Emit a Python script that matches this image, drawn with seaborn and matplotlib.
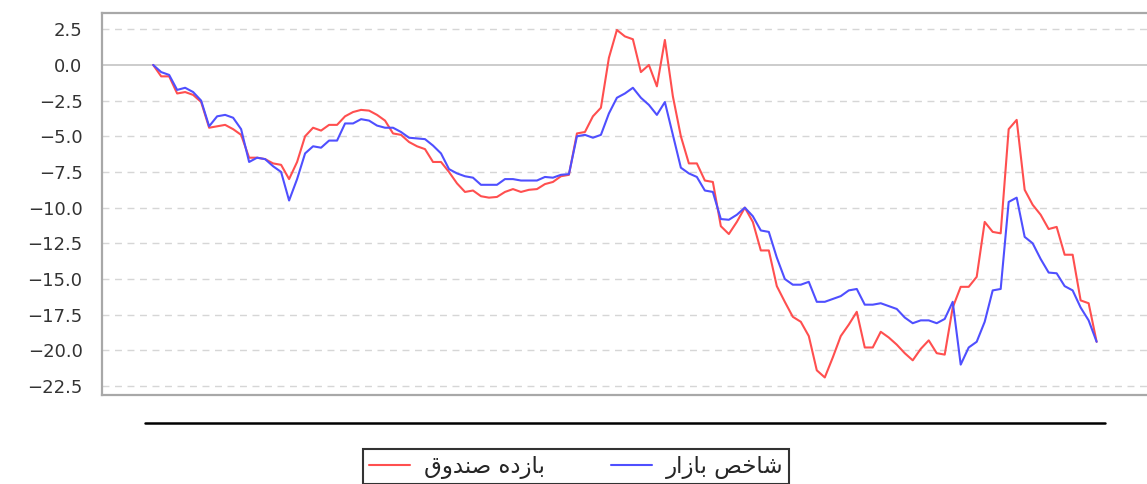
import numpy as np
import pandas as pd
import seaborn as sns
import matplotlib.pyplot as plt
from matplotlib.lines import Line2D

# values (percent), one per sample step
fund_return = [
    0.0, -0.8, -0.8, -2.0, -1.9, -2.1, -2.6, -4.4, -4.3, -4.2,
    -4.5, -4.9, -6.5, -6.5, -6.6, -6.9, -7.0, -8.0, -6.8, -5.0,
    -4.4, -4.6, -4.2, -4.2, -3.6, -3.3, -3.15, -3.2, -3.5, -3.9,
    -4.8, -4.9, -5.4, -5.7, -5.9, -6.8, -6.8, -7.5, -8.3, -8.9,
    -8.8, -9.2, -9.3, -9.25, -8.9, -8.7, -8.9, -8.75, -8.7, -8.35,
    -8.2, -7.8, -7.7, -4.8, -4.7, -3.6, -3.0, 0.5, 2.45, 2.0,
    1.8, -0.5, 0.0, -1.5, 1.75, -2.2, -5.0, -6.9, -6.9, -8.1,
    -8.2, -11.3, -11.85, -11.0, -10.0, -11.0, -13.0, -13.0, -15.5, -16.6,
    -17.65, -18.0, -19.0, -21.4, -21.9, -20.5, -19.0, -18.2, -17.3, -19.8,
    -19.8, -18.7, -19.1, -19.6, -20.2, -20.7, -19.9, -19.3, -20.2, -20.3,
    -17.0, -15.55, -15.55, -14.85, -11.0, -11.7, -11.8, -4.5, -3.85, -8.75,
    -9.8, -10.5, -11.5, -11.35, -13.3, -13.3, -16.5, -16.7, -19.4,
]
market_index = [
    0.0, -0.5, -0.7, -1.75, -1.6, -1.9, -2.5, -4.3, -3.6, -3.5,
    -3.7, -4.5, -6.8, -6.5, -6.6, -7.1, -7.5, -9.5, -8.0, -6.2,
    -5.7, -5.8, -5.3, -5.3, -4.1, -4.1, -3.8, -3.9, -4.25, -4.4,
    -4.4, -4.7, -5.1, -5.15, -5.2, -5.65, -6.2, -7.3, -7.6, -7.8,
    -7.9, -8.4, -8.4, -8.4, -8.0, -8.0, -8.1, -8.1, -8.1, -7.85,
    -7.9, -7.7, -7.65, -5.0, -4.9, -5.1, -4.9, -3.4, -2.3, -2.0,
    -1.6, -2.3, -2.8, -3.5, -2.6, -4.9, -7.2, -7.6, -7.85, -8.8,
    -8.9, -10.8, -10.85, -10.5, -10.0, -10.6, -11.6, -11.7, -13.5, -15.0,
    -15.4, -15.4, -15.2, -16.6, -16.6, -16.4, -16.2, -15.8, -15.7, -16.8,
    -16.8, -16.7, -16.9, -17.1, -17.7, -18.1, -17.9, -17.9, -18.1, -17.8,
    -16.6, -21.0, -19.8, -19.4, -18.0, -15.8, -15.7, -9.6, -9.3, -12.05,
    -12.5, -13.6, -14.55, -14.6, -15.5, -15.8, -17.0, -17.9, -19.4,
]
y_ticks = [2.5, 0.0, -2.5, -5.0, -7.5, -10.0, -12.5, -15.0, -17.5, -20.0, -22.5]

# Persian labels, written in shaped (presentation) form so they join up
label_fund = "\ufed5\ufeed\ufeaa\ufee8\ufebb \ufee9\ufea9\ufeaf\ufe8e\ufe91"    # بازده صندوق
label_market = "\ufead\ufe8d\ufeaf\ufe8e\ufe91 \ufeba\ufea7\ufe8e\ufeb7"         # شاخص بازار

df = pd.DataFrame({
    "day": np.arange(len(fund_return)),
    "fund": fund_return,
    "market": market_index,
})

sns.set_style("white")
plt.rcParams['font.family'] = ['DejaVu Sans']

fig = plt.figure(figsize=(11.47, 4.84), dpi=100)
ax = fig.add_axes([102 / 1147, 1 - 395 / 484, 1 - 102 / 1147, (395 - 13) / 484])

sns.lineplot(data=df, x="day", y="fund", ax=ax, color="#ff4f4f", lw=1.5)
sns.lineplot(data=df, x="day", y="market", ax=ax, color="#4f4fff", lw=1.5)

ax.set_xlim(-6.4, 124.3)
ax.set_ylim(-23.13, 3.64)
ax.set_yticks(y_ticks)
ax.set_yticklabels([f"{t:.1f}".replace("-", "\u2212") for t in y_ticks])
ax.set_xticks([])
ax.set_xlabel("")
ax.set_ylabel("")

for t in y_ticks:
    if t == 0:
        ax.axhline(t, color="#c4c4c4", lw=1.2, zorder=0)
    else:
        ax.axhline(t, color="#d6d6d6", lw=1.0, ls=(0, (5, 4)), zorder=0)

ax.tick_params(axis="y", length=5, width=1.2, color="#999999", pad=9,
               labelsize=13, labelcolor="#333333")
for side in ["left", "top", "bottom"]:
    ax.spines[side].set_color("#a8a8a8")
    ax.spines[side].set_linewidth(1.6)
ax.spines["right"].set_visible(False)

# empty date axis bar under the plot
fig.add_artist(Line2D([145 / 1147, 1105 / 1147], [1 - 423 / 484, 1 - 423 / 484],
                      color="black", lw=1.8))

handles = [Line2D([], [], color="#ff4f4f", lw=1.5),
           Line2D([], [], color="#4f4fff", lw=1.5)]
leg = fig.legend(handles, [label_fund, label_market], ncol=2,
                 loc="upper center", bbox_to_anchor=(576 / 1147, 1 - 449 / 484),
                 fontsize=16.5, frameon=True, fancybox=False, handlelength=1.8,
                 columnspacing=2.9, handletextpad=0.6, borderpad=0.25,
                 borderaxespad=0)
leg.get_frame().set_edgecolor("black")
leg.get_frame().set_linewidth(1.5)

fig.savefig("out.png", dpi=100)
